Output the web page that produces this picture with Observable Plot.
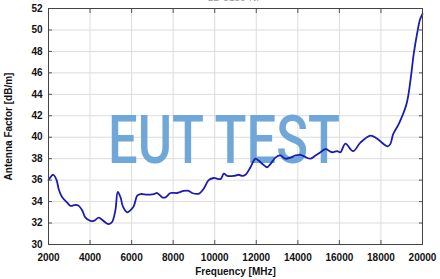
<!DOCTYPE html>
<html><head><meta charset="utf-8">
<script src="https://cdn.jsdelivr.net/npm/d3@7"></script>
<script src="https://cdn.jsdelivr.net/npm/@observablehq/plot@0.6"></script>
<style>body{margin:0;background:#fff}svg{font-family:"Liberation Sans",Arial,sans-serif}</style>
</head><body><div id="chart"></div>
<script>
const freqMHz = [2000,2230,2390,2500,2660,2900,3060,3300,3460,3620,3780,4020,4180,4420,4580,4740,4900,5060,5220,5335,5465,5590,5785,5950,6100,6270,6430,6750,7070,7230,7470,7630,7870,8190,8510,8750,8910,9250,9470,9710,9950,10280,10440,10600,10920,11160,11320,11480,11720,11960,12120,12360,12520,12680,12920,13160,13400,13650,13890,14130,14370,14610,14850,15090,15330,15650,15890,16050,16290,16660,17010,17500,17820,18330,18460,18590,18860,19230,19420,19580,19740,19870,20000];
const antennaFactor = [36.0,36.5,36.0,35.1,34.4,33.9,33.6,33.7,33.6,33.2,32.5,32.2,32.2,32.5,32.3,32.05,31.9,32.1,33.2,34.9,34.4,33.5,33.0,33.2,33.55,34.55,34.7,34.65,34.7,34.8,34.4,34.4,34.8,34.8,35.0,35.0,34.8,34.75,35.2,36.0,36.2,36.1,36.6,36.4,36.4,36.5,36.4,36.5,37.2,38.0,37.8,37.4,37.2,37.5,38.1,38.3,38.0,38.1,38.3,38.35,38.15,38.0,38.3,38.6,38.9,38.6,38.7,38.6,39.4,38.7,39.5,40.15,39.85,39.15,39.4,40.3,41.25,43.1,45.3,47.8,49.65,50.9,51.5];
const xTicks = [2000,4000,6000,8000,10000,12000,14000,16000,18000,20000];
const yTicks = [30,32,34,36,38,40,42,44,46,48,50,52];
const titleText = "LB-8180-NF";
const watermark = "EUT TEST";
const xLabel = "Frequency [MHz]";
const yLabel = "Antenna Factor [dB/m]";

const data = freqMHz.map((f, i) => ({f, v: antennaFactor[i]}));

const chart = Plot.plot({
  width: 440, height: 279,
  marginLeft: 48, marginRight: 18, marginTop: 8, marginBottom: 35,
  style: {fontFamily: "'Liberation Sans', Arial, sans-serif", fontSize: "10px", fontWeight: "bold", color: "#111", background: "#fff"},
  x: {domain: [2000, 20000], ticks: xTicks},
  y: {domain: [30, 52], ticks: yTicks},
  marks: [
    Plot.gridX(xTicks, {stroke: "#dcdcdc", strokeOpacity: 1}),
    Plot.gridY(yTicks, {stroke: "#dcdcdc", strokeOpacity: 1}),
    Plot.line(data, {x: "f", y: "v", stroke: "#1c1cb0", strokeWidth: 1.8, curve: "catmull-rom"}),
    Plot.axisX(xTicks, {anchor: "bottom", tickSize: -4, tickPadding: 13, stroke: "#555", label: xLabel, labelAnchor: "center", labelArrow: "none", labelOffset: 30, tickFormat: d => String(d)}),
    Plot.axisX(xTicks, {anchor: "top", tickSize: -4, stroke: "#555", tickFormat: () => "", label: null}),
    Plot.axisY(yTicks, {anchor: "left", tickSize: -4, tickPadding: 10, stroke: "#555", label: yLabel, labelAnchor: "center", labelArrow: "none", labelOffset: 44}),
    Plot.axisY(yTicks, {anchor: "right", tickSize: -4, stroke: "#555", tickFormat: () => "", label: null}),
    Plot.frame({stroke: "#444", strokeWidth: 1})
  ]
});
document.getElementById("chart").appendChild(chart);

const svg = d3.select(chart);
svg.insert("text", "g[aria-label='line']")
  .attr("x", 224).attr("y", 163)
  .attr("text-anchor", "middle")
  .attr("font-family", "Roboto, 'Noto Sans', sans-serif")
  .attr("font-weight", "500")
  .attr("font-size", 66)
  .attr("fill", "#6fa8d8")
  .attr("textLength", 232)
  .attr("lengthAdjust", "spacingAndGlyphs")
  .text(watermark);
svg.append("text")
  .attr("x", 235).attr("y", 1)
  .attr("text-anchor", "middle")
  .attr("font-size", 10).attr("font-weight", "normal")
  .attr("fill", "#999")
  .text(titleText);
</script></body></html>
